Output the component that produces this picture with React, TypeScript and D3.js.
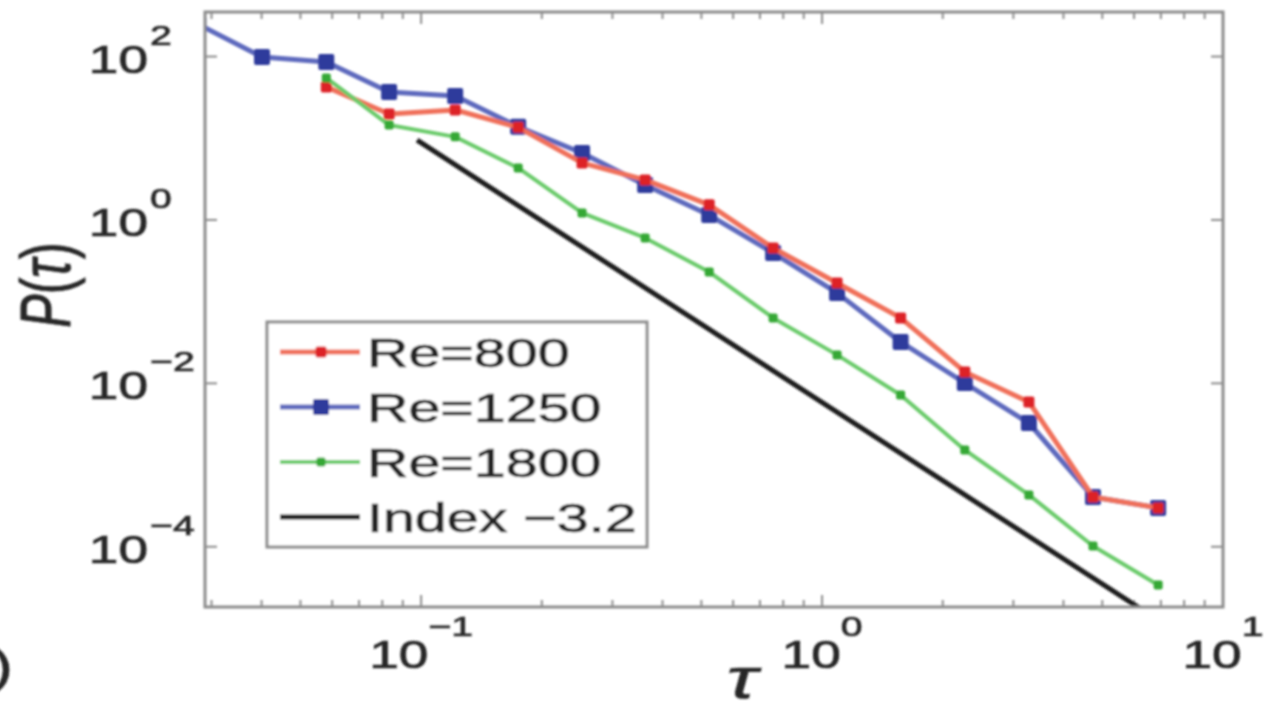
import React from 'react';
import * as d3 from 'd3';

// tau values (x)
const tauBlue = [0.0278, 0.0401, 0.058, 0.0832, 0.1216, 0.1746, 0.252, 0.362, 0.523, 0.755, 1.09, 1.57, 2.27, 3.28, 4.74, 6.89];
const tauRest = [0.058, 0.0832, 0.1216, 0.1746, 0.252, 0.362, 0.523, 0.755, 1.09, 1.57, 2.27, 3.28, 4.74, 6.89];

// P(tau) for each Reynolds number
const re1250 = [248, 98.9, 85.9, 36.9, 33.0, 13.8, 6.6, 2.68, 1.15, 0.395, 0.128, 0.0321, 0.0101, 0.00327, 4.07e-4, 2.99e-4];
const re800 = [42.5, 19.8, 22.2, 13.6, 4.99, 3.09, 1.53, 0.454, 0.169, 0.0632, 0.0138, 0.00592, 4.07e-4, 2.99e-4];
const re1800 = [54.7, 14.5, 10.4, 4.33, 1.22, 0.602, 0.231, 0.0632, 0.0223, 0.00721, 0.00153, 4.31e-4, 1.02e-4, 3.41e-5];

// reference power law, index -3.2
const indexTau = [0.0977, 6.3];
const indexP = [9.5, 1.68e-5];

const xTickExp = [-1, 0, 1];
const yTickExp = [2, 0, -2, -4];
const legendLabels = ['Re=800', 'Re=1250', 'Re=1800', 'Index \u22123.2'];

const W = 1283;
const H = 705;
const FONT = "'Liberation Sans', Arial, sans-serif";
const SX = 1.4; // the figure is stretched horizontally
const AXIS = '#8c8c8c';
const TXT = '#262626';

const x = d3.scaleLog().domain([0.0289, 10]).range([205, 1223]);
const y = d3.scaleLog().domain([1.83e-5, 351]).range([607, 12]);

const series = [
  { name: legendLabels[0], xs: tauRest, ys: re800, line: '#f0705a', mark: '#dd2028', size: 11, width: 5 },
  { name: legendLabels[1], xs: tauBlue, ys: re1250, line: '#5d69bd', mark: '#2e3b9c', size: 16, width: 5 },
  { name: legendLabels[2], xs: tauRest, ys: re1800, line: '#6acb6a', mark: '#36a836', size: 9, width: 4 },
];
const drawOrder = [1, 0, 2];

function sup(n: number) {
  return n < 0 ? '\u2212' + Math.abs(n) : String(n);
}

export default function App() {
  const line = d3
    .line<[number, number]>()
    .x((d) => x(d[0]))
    .y((d) => y(d[1]));

  const [x0, x1] = x.range();
  const [y0, y1] = y.range();

  const minor: number[] = [];
  for (let e = -2; e <= 0; e++) {
    for (let k = 2; k <= 9; k++) {
      const v = k * Math.pow(10, e);
      if (v >= x.domain()[0] && v <= x.domain()[1]) minor.push(v);
    }
  }

  const legend = { left: 267, top: 322, right: 647, bottom: 547, rows: [352, 407, 462, 517] };
  const textProps = { fontFamily: FONT, fill: TXT, stroke: TXT, strokeWidth: 0.7 };

  return (
    <svg width={W} height={H} style={{ position: 'absolute', left: 0, top: 0, background: '#fff' }}>
      <defs>
        <clipPath id="plotArea">
          <rect x={x0} y={y1} width={x1 - x0} height={y0 - y1} />
        </clipPath>
        <filter id="soft" x="-5%" y="-5%" width="110%" height="110%">
          <feGaussianBlur stdDeviation={1.1} />
        </filter>
      </defs>

      <g filter="url(#soft)">
        {/* ticks */}
        <g stroke={AXIS} strokeWidth={2}>
          {minor.map((v) => (
            <g key={'m' + v}>
              <line x1={x(v)} x2={x(v)} y1={y0} y2={y0 - 7} />
              <line x1={x(v)} x2={x(v)} y1={y1} y2={y1 + 7} />
            </g>
          ))}
          {xTickExp.map((e) => (
            <g key={'xt' + e}>
              <line x1={x(Math.pow(10, e))} x2={x(Math.pow(10, e))} y1={y0} y2={y0 - 12} />
              <line x1={x(Math.pow(10, e))} x2={x(Math.pow(10, e))} y1={y1} y2={y1 + 12} />
            </g>
          ))}
          {yTickExp.map((e) => (
            <g key={'yt' + e}>
              <line x1={x0} x2={x0 + 12} y1={y(Math.pow(10, e))} y2={y(Math.pow(10, e))} />
              <line x1={x1} x2={x1 - 12} y1={y(Math.pow(10, e))} y2={y(Math.pow(10, e))} />
            </g>
          ))}
        </g>

        {/* data */}
        <g clipPath="url(#plotArea)">
          <path
            d={line(indexTau.map((t, i) => [t, indexP[i]] as [number, number])) || ''}
            fill="none"
            stroke="#1e1e1e"
            strokeWidth={5}
          />
          {drawOrder.map((i) => {
            const s = series[i];
            const pts = s.xs.map((t, j) => [t, s.ys[j]] as [number, number]);
            return (
              <g key={s.name}>
                <path d={line(pts) || ''} fill="none" stroke={s.line} strokeWidth={s.width} strokeLinejoin="round" />
                {pts.map((p, j) => (
                  <rect
                    key={j}
                    x={x(p[0]) - s.size / 2}
                    y={y(p[1]) - s.size / 2}
                    width={s.size}
                    height={s.size}
                    rx={2}
                    fill={s.mark}
                  />
                ))}
              </g>
            );
          })}
        </g>

        {/* frame */}
        <rect x={x0} y={y1} width={x1 - x0} height={y0 - y1} fill="none" stroke={AXIS} strokeWidth={3} />

        {/* x tick labels */}
        {xTickExp.map((e) => (
          <text
            key={'xl' + e}
            transform={`translate(${x(Math.pow(10, e))},668) scale(${SX},1)`}
            textAnchor="middle"
            fontSize={38}
            {...textProps}
          >
            10
            <tspan dy={-32} fontSize={28}>
              {sup(e)}
            </tspan>
          </text>
        ))}

        {/* y tick labels */}
        {yTickExp.map((e) => {
          const ty = y(Math.pow(10, e));
          return (
            <g key={'yl' + e}>
              <text transform={`translate(148,${ty + 16}) scale(${SX},1)`} textAnchor="end" fontSize={38} {...textProps}>
                10
              </text>
              <text transform={`translate(150,${ty - 12}) scale(${SX},1)`} textAnchor="start" fontSize={28} {...textProps}>
                {sup(e)}
              </text>
            </g>
          );
        })}

        {/* axis labels */}
        <text
          transform={`translate(742,698) scale(${SX},1)`}
          textAnchor="middle"
          fontStyle="italic"
          fontSize={58}
          {...textProps}
        >
          τ
        </text>
        <text
          transform={`translate(70,285) scale(${SX},1) rotate(-90)`}
          textAnchor="middle"
          fontSize={50}
          {...textProps}
        >
          <tspan fontStyle="italic">P</tspan>(<tspan fontStyle="italic">τ</tspan>)
        </text>

        {/* legend */}
        <rect
          x={legend.left}
          y={legend.top}
          width={legend.right - legend.left}
          height={legend.bottom - legend.top}
          fill="#fff"
          stroke={AXIS}
          strokeWidth={3}
        />
        {legendLabels.map((lab, i) => {
          const ry = legend.rows[i];
          const s = series[i];
          return (
            <g key={lab}>
              <line x1={280} x2={360} y1={ry} y2={ry} stroke={s ? s.line : '#1e1e1e'} strokeWidth={s ? s.width : 5} />
              {s && <rect x={321 - s.size / 2} y={ry - s.size / 2} width={s.size} height={s.size} rx={2} fill={s.mark} />}
              <text transform={`translate(367,${ry + 15}) scale(${SX},1)`} fontSize={41} {...textProps}>
                {lab}
              </text>
            </g>
          );
        })}

        {/* panel label, cut off at the left edge */}
        <text transform={`translate(13,682) scale(${SX},1)`} textAnchor="end" fontSize={46} {...textProps}>
          (b)
        </text>
      </g>
    </svg>
  );
}
